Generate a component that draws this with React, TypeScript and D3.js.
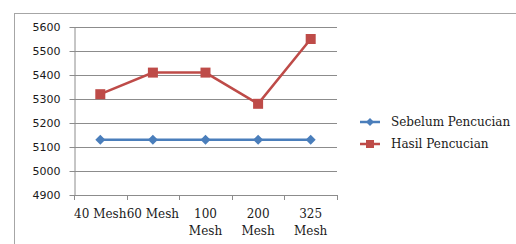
import { useRef, useEffect } from "react";
import * as d3 from "d3";

const categories = ["40 Mesh", "60 Mesh", "100|Mesh", "200|Mesh", "325|Mesh"];
const sebelum = [5130, 5130, 5130, 5130, 5130];
const hasil = [5320, 5410, 5410, 5280, 5550];
const yTicks = [4900, 5000, 5100, 5200, 5300, 5400, 5500, 5600];
const seriesNames = ["Sebelum Pencucian", "Hasil Pencucian"];

export default function App() {
  const ref = useRef<SVGSVGElement>(null);

  useEffect(() => {
    if (!ref.current) return;
    const svg = d3.select(ref.current); svg.selectAll("*").remove();
    const W = 516, H = 244;
    const serif = "'DejaVu Serif', 'Liberation Serif', serif";
    svg.attr("width", W).attr("height", H);
    svg.append("rect").attr("x", 14.5).attr("y", 13.5).attr("width", W).attr("height", H)
      .attr("fill", "#fff").attr("stroke", "#a6a6a6");

    const left = 74, right = 337, top = 27, bottom = 195;
    const x = d3.scaleBand().domain(categories).range([left, right]);
    const y = d3.scaleLinear().domain([4900, 5600]).range([bottom, top]);
    const g = svg.append("g");

    g.selectAll(".grid").data(yTicks.slice(1)).join("line")
      .attr("x1", left).attr("x2", right).attr("y1", d => Math.round(y(d)) + 0.5).attr("y2", d => Math.round(y(d)) + 0.5)
      .attr("stroke", "#8c8c8c").attr("stroke-width", 1);

    g.append("g").attr("transform", `translate(${left + 0.5},0)`)
      .call(d3.axisLeft(y).tickValues(yTicks).tickSize(5).tickSizeOuter(0).tickFormat(d3.format("d")))
      .call(a => a.selectAll("text").attr("fill", "#1a1a1a").attr("font-size", "11px")
        .attr("font-family", "'DejaVu Sans', Verdana, sans-serif").attr("dx", "-6").attr("dy", "0.35em"))
      .call(a => a.selectAll("line").attr("stroke", "#8c8c8c"))
      .call(a => a.select(".domain").attr("stroke", "#8c8c8c"));

    g.append("line").attr("x1", left).attr("x2", right).attr("y1", bottom + 0.5).attr("y2", bottom + 0.5).attr("stroke", "#8c8c8c");
    const bounds = [...categories.map(c => x(c)!), right];
    g.selectAll(".xt").data(bounds).join("line")
      .attr("x1", d => Math.round(d) + 0.5).attr("x2", d => Math.round(d) + 0.5)
      .attr("y1", bottom).attr("y2", bottom + 5).attr("stroke", "#8c8c8c");

    categories.forEach(c => {
      const lines = c.split("|");
      const t = g.append("text").attr("x", x(c)! + x.bandwidth() / 2).attr("y", 218)
        .attr("text-anchor", "middle").attr("fill", "#1a1a1a").attr("font-size", "12px")
        .attr("font-family", serif);
      lines.forEach((l, i) => t.append("tspan").attr("x", x(c)! + x.bandwidth() / 2).attr("dy", i === 0 ? 0 : 17).text(l));
    });

    const cx = (i: number) => x(categories[i])! + x.bandwidth() / 2;
    const line = d3.line<number>().x((_d, i) => cx(i)).y(d => y(d));
    const colors = ["#4a7ebb", "#be4b48"];
    const diamond = (px: number, py: number, r: number) => `M${px},${py - r}L${px + r},${py}L${px},${py + r}L${px - r},${py}Z`;

    g.append("path").datum(sebelum).attr("fill", "none").attr("stroke", colors[0]).attr("stroke-width", 2.5).attr("d", line);
    g.selectAll(".dm").data(sebelum).join("path").attr("d", (d, i) => diamond(cx(i), y(d), 5)).attr("fill", colors[0]);
    g.append("path").datum(hasil).attr("fill", "none").attr("stroke", colors[1]).attr("stroke-width", 2.5).attr("d", line);
    g.selectAll(".sq").data(hasil).join("rect").attr("x", (_d, i) => cx(i) - 5).attr("y", d => y(d) - 5)
      .attr("width", 10).attr("height", 10).attr("fill", colors[1]);

    seriesNames.forEach((name, i) => {
      const ly = 122 + i * 22;
      g.append("line").attr("x1", 360).attr("x2", 380).attr("y1", ly).attr("y2", ly).attr("stroke", colors[i]).attr("stroke-width", 2.5);
      if (i === 0) g.append("path").attr("d", diamond(370, ly, 4)).attr("fill", colors[0]);
      else g.append("rect").attr("x", 366).attr("y", ly - 4).attr("width", 8).attr("height", 8).attr("fill", colors[1]);
      g.append("text").attr("x", 391).attr("y", ly).attr("dy", "0.35em").attr("fill", "#1a1a1a").attr("font-size", "12px")
        .attr("font-family", serif).text(name);
    });
  }, []);

  return <svg ref={ref} style={{ position: "absolute", left: 0, top: 0 }} />;
}
